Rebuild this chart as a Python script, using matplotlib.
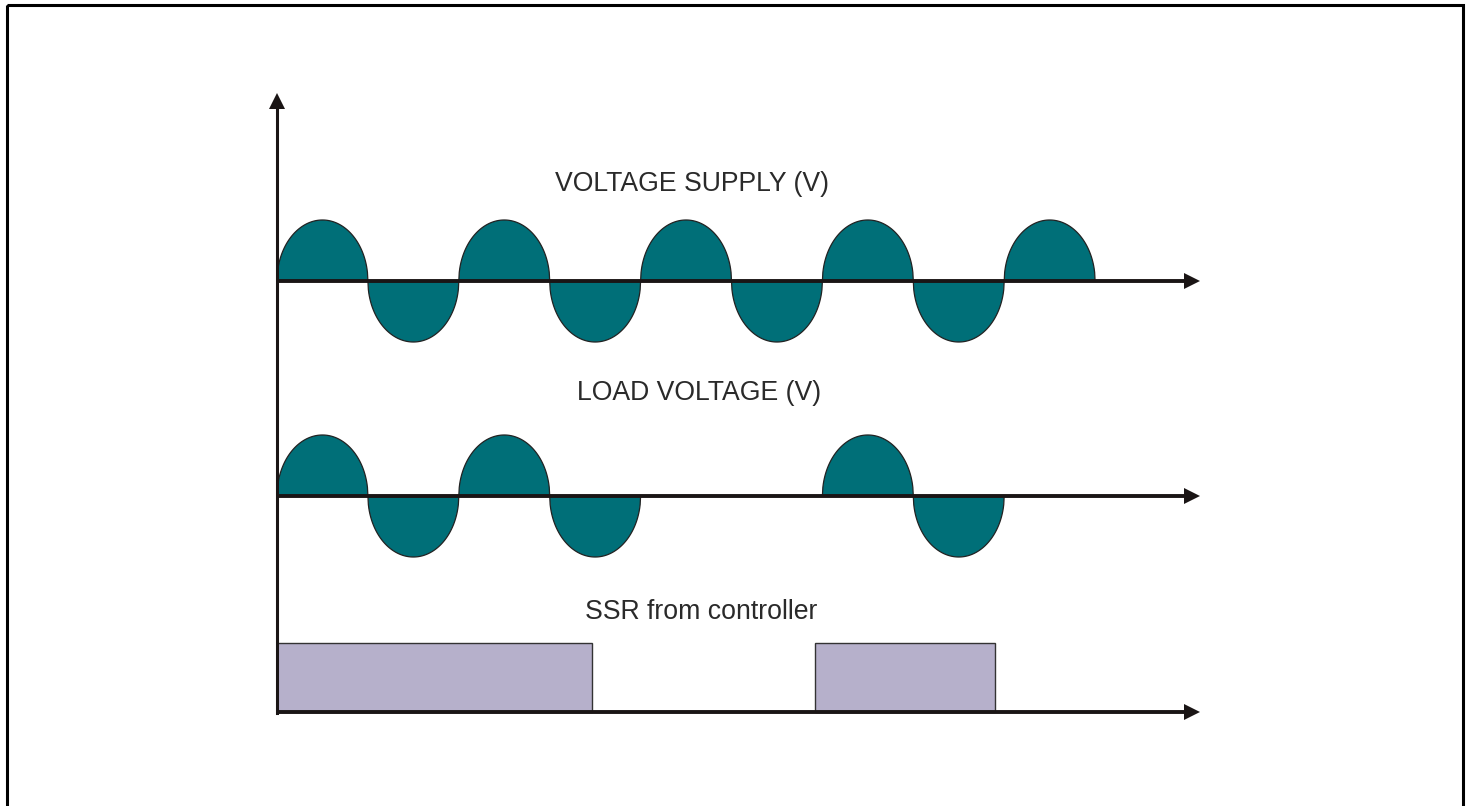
import numpy as np
import matplotlib.pyplot as plt
from matplotlib.patches import Rectangle

# half-cycle polarity of each trace (1 = positive lobe, -1 = negative, 0 = off)
supply_lobes = [1, -1, 1, -1, 1, -1, 1, -1, 1]
load_lobes = [1, -1, 1, -1, 0, 0, 1, -1]
# SSR on-intervals from controller, in half-cycle units
ssr_on = [(0.0, 3.47), (5.92, 7.9)]
labels = ['VOLTAGE SUPPLY (V)', 'LOAD VOLTAGE (V)', 'SSR from controller']

# layout (pixel space)
W, H = 1469, 806
x0, unit = 277, 90.9        # origin and width of one half-cycle
amp = 61                    # lobe height
base_supply, base_load, base_ssr = 281, 496, 712
ssr_height = 69
teal = '#006F78'
dark = '#1a1515'

fig = plt.figure(figsize=(W / 100, H / 100), dpi=100)
ax = fig.add_axes([0, 0, 1, 1])
ax.set_xlim(0, W)
ax.set_ylim(H, 0)
ax.axis('off')


def px(t):
    return x0 + t * unit


def draw_lobes(polarity, base):
    s = np.linspace(-1, 1, 200)
    for i, p in enumerate(polarity):
        if p == 0:
            continue
        xs = px(i + 0.5 + 0.5 * s)
        ys = base - p * amp * np.sqrt(1 - s ** 2)
        ax.fill(xs, ys, color=teal, ec='#222222', lw=0.9, zorder=2)


def h_arrow(y, x_end=1200):
    ax.plot([x0 - 1, x_end - 14], [y, y], color=dark, lw=2.8, solid_capstyle='butt', zorder=3)
    ax.fill([x_end - 16, x_end, x_end - 16], [y - 8, y, y + 8], color=dark, lw=0, zorder=3)


draw_lobes(supply_lobes, base_supply)
draw_lobes(load_lobes, base_load)

for a, b in ssr_on:
    ax.add_patch(Rectangle((px(a), base_ssr - ssr_height), (b - a) * unit, ssr_height,
                           fc='#B6B0CB', ec='#333333', lw=1.0, zorder=2))

for y in (base_supply, base_load, base_ssr):
    h_arrow(y)

# vertical axis
ax.plot([x0, x0], [base_ssr + 1, 108], color=dark, lw=2.2, zorder=3)
ax.fill([x0 - 8, x0, x0 + 8], [109, 93, 109], color=dark, lw=0, zorder=3)

font = dict(family='Liberation Sans', fontsize=19.2, color='#2a2a2a', ha='center', va='center')
ax.text(692, 184, labels[0], **font)
ax.text(699, 393, labels[1], **font)
ax.text(701, 612, labels[2], **font)

# outer frame
ax.add_patch(Rectangle((7, 5), 1456, 820, fill=False, ec='black', lw=2.2, clip_on=False))

fig.savefig('out.png', dpi=100)
